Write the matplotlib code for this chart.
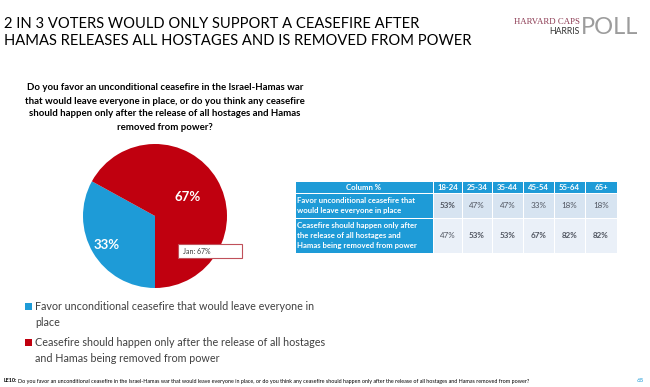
import matplotlib
matplotlib.use("Agg")
import matplotlib.pyplot as plt
from matplotlib.patches import Rectangle
import numpy as np

# ---------------- data ----------------
pie_labels = ["Favor unconditional ceasefire that would leave everyone in\nplace",
              "Ceasefire should happen only after the release of all hostages\nand Hamas being removed from power"]
pie_values = [33, 67]
jan_note = "Jan: 67%"

age_groups = ["18-24", "25-34", "35-44", "45-54", "55-64", "65+"]
row_labels = ["Favor unconditional ceasefire that\nwould leave everyone in place",
              "Ceasefire should happen only after\nthe release of all hostages and\nHamas being removed from power"]
favor_vals = [53, 47, 47, 33, 18, 18]
after_vals = [47, 53, 53, 67, 82, 82]

title = "2 IN 3 VOTERS WOULD ONLY SUPPORT A CEASEFIRE AFTER\nHAMAS RELEASES ALL HOSTAGES AND IS REMOVED FROM POWER"
question = ("Do you favor an unconditional ceasefire in the Israel-Hamas war\n"
            "that would leave everyone in place, or do you think any ceasefire\n"
            "should happen only after the release of all hostages and Hamas\n"
            "removed from power?")
footer_bold = "LE10:"
footer_text = ("Do you favor an unconditional ceasefire in the Israel-Hamas war that would leave everyone in place, "
               "or do you think any ceasefire should happen only after the release of all hostages and Hamas removed from power?")
page_num = "65"

# ---------------- style ----------------
FONT = "Lato"
BLUE = "#1e9bd7"
RED = "#c0000f"
ROW1_BG = "#d7e4f1"
ROW2_BG = "#eaf0f8"
DARK = "#3a3a3a"

W, H = 650, 387
fig = plt.figure(figsize=(W / 100, H / 100), dpi=100)
fig.patch.set_facecolor("white")

# pie
cx, cy, r = 155, 216, 72
axp = fig.add_axes([(cx - r) / W, 1 - (cy + r) / H, 2 * r / W, 2 * r / H])
wedges, _ = axp.pie(pie_values, colors=[BLUE, RED], startangle=270, counterclock=False,
                    wedgeprops=dict(linewidth=0))
axp.set_xlim(-1, 1)
axp.set_ylim(-1, 1)
axp.set_aspect("auto")
axp.axis("off")
dists = [0.78, 0.52]
for w, v, d in zip(wedges, pie_values, dists):
    ang = np.deg2rad((w.theta1 + w.theta2) / 2)
    axp.text(d * np.cos(ang), d * np.sin(ang), f"{v}%", color="white", fontsize=9.5,
             family=FONT, fontweight="bold", ha="center", va="center")

ax0 = fig.add_axes([0, 0, 1, 1])
ax0.set_xlim(0, W)
ax0.set_ylim(H, 0)
ax0.axis("off")
ax0.set_zorder(3)

# title
ax0.text(4, 24, title.split("\n")[0], fontsize=10.6, family=FONT, color="black", va="center", ha="left")
ax0.text(4, 41, title.split("\n")[1], fontsize=10.6, family=FONT, color="black", va="center", ha="left")

# logo
ax0.text(580, 22, "HARVARD CAPS", fontsize=6.3, family="Liberation Serif", color="#8c3a52", ha="right", va="center")
ax0.text(580, 32, "HARRIS", fontsize=6.3, family=FONT, color="#333333", ha="right", va="center")
ax0.text(581, 27, "POLL", fontsize=17, family=FONT, color="#9c9c9c", ha="left", va="center")

# question
qlines = question.split("\n")
for i, ln in enumerate(qlines):
    ax0.text(165, 88 + i * 13, ln, fontsize=6.9, family=FONT, fontweight="bold", color="black",
             ha="center", va="center")

# Jan note box
ax0.add_patch(Rectangle((178, 244), 64, 14, facecolor="white", edgecolor="#c0505a", linewidth=0.8, zorder=5))
ax0.text(183, 251, jan_note, fontsize=5, family=FONT, color=DARK, va="center", ha="left", zorder=6)

# legend
leg_y = [306, 342]
for (lab, col, y) in zip(pie_labels, [BLUE, RED], leg_y):
    ax0.add_patch(Rectangle((25, y - 3.5), 7, 7, facecolor=col, edgecolor="none"))
    lines = lab.split("\n")
    for j, ln in enumerate(lines):
        ax0.text(35, y + j * 16, ln, fontsize=7.75, family=FONT, color="#404040", va="center", ha="left")

# table
col_edges = [295, 433, 462, 492, 523, 554, 585, 617]
row_edges = [182, 193, 218, 253]
gap = 1.0
for c in range(len(col_edges) - 1):
    x0, x1 = col_edges[c], col_edges[c + 1]
    ax0.add_patch(Rectangle((x0 + gap / 2, row_edges[0]), x1 - x0 - gap, row_edges[1] - row_edges[0] - gap / 2,
                            facecolor=BLUE, edgecolor="none"))
    txt = "Column %" if c == 0 else age_groups[c - 1]
    ax0.text((x0 + x1) / 2, (row_edges[0] + row_edges[1]) / 2, txt, color="white", fontsize=5.6,
             family=FONT, fontweight="bold", ha="center", va="center")
rows = [favor_vals, after_vals]
bgs = [ROW1_BG, ROW2_BG]
for r_i, vals in enumerate(rows):
    y0, y1 = row_edges[r_i + 1], row_edges[r_i + 2]
    ax0.add_patch(Rectangle((col_edges[0] + gap / 2, y0 + gap / 2), col_edges[1] - col_edges[0] - gap,
                            y1 - y0 - gap, facecolor=BLUE, edgecolor="none"))
    lab_lines = row_labels[r_i].split("\n")
    n = len(lab_lines)
    mid = (y0 + y1) / 2
    for j, ln in enumerate(lab_lines):
        ax0.text(297, mid + (j - (n - 1) / 2) * 10.3, ln, color="white", fontsize=5.6, family=FONT,
                 fontweight="bold", ha="left", va="center")
    for c, v in enumerate(vals):
        x0, x1 = col_edges[c + 1], col_edges[c + 2]
        ax0.add_patch(Rectangle((x0 + gap / 2, y0 + gap / 2), x1 - x0 - gap, y1 - y0 - gap,
                                facecolor=bgs[r_i], edgecolor="none"))
        ax0.text((x0 + x1) / 2, mid, f"{v}%", color="#505560", fontsize=5.8, family=FONT,
                 fontweight="bold" if v > 50 else "normal", ha="center", va="center")

# footer
ax0.text(4, 381, footer_bold, fontsize=3.9, family=FONT, fontweight="bold", color="black", va="center", ha="left")
ax0.text(17.5, 381, footer_text, fontsize=3.9, family=FONT, color="black", va="center", ha="left")
ax0.text(640, 381, page_num, fontsize=4.5, family=FONT, color=BLUE, va="center", ha="center")

fig.savefig("out.png", dpi=100, facecolor="white")
